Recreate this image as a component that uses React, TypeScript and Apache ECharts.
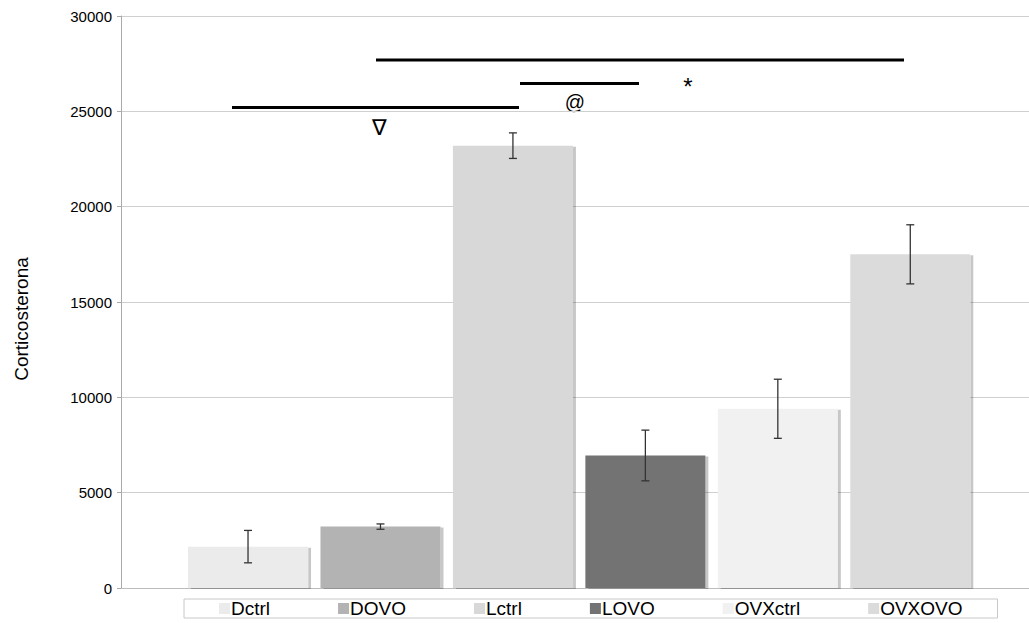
import React, { useEffect, useRef } from "react";
import * as echarts from "echarts";

const groups = ["Dctrl", "DOVO", "Lctrl", "LOVO", "OVXctrl", "OVXOVO"];
const means = [2170, 3220, 23200, 6950, 9400, 17500];
const errors = [850, 140, 670, 1330, 1550, 1550];
const colors = ["#ebebeb", "#b3b3b3", "#d8d8d8", "#737373", "#f1f1f1", "#dbdbdb"];
const yTicks = [0, 5000, 10000, 15000, 20000, 25000, 30000];
const yName = "Corticosterona";
const signifMarks = ["∇", "@", "*"];

const FONT = "'Liberation Sans', Arial, Helvetica, sans-serif";

export default function App() {
  const ref = useRef<HTMLDivElement>(null);
  useEffect(() => {
    if (!ref.current) return;
    const chart = echarts.init(ref.current, undefined, { renderer: "svg" });
    const yMax = yTicks[yTicks.length - 1];
    const interval = yTicks[1] - yTicks[0];

    const barSeries = groups.map((g, i) => ({
      name: g,
      type: "bar",
      xAxisIndex: 1,
      yAxisIndex: 1,
      barWidth: 120,
      barGap: "-100%",
      z: 2,
      data: groups.map((_, j) => (j === i ? means[i] : "-")),
      itemStyle: {
        color: colors[i],
        shadowColor: "rgba(0,0,0,0.22)",
        shadowOffsetX: 3,
        shadowOffsetY: 1,
        shadowBlur: 0,
      },
    }));

    const errSeries = {
      type: "custom",
      xAxisIndex: 1,
      yAxisIndex: 1,
      silent: true,
      z: 10,
      data: groups.map((_, i) => [i, means[i] - errors[i], means[i] + errors[i]]),
      renderItem: (params: any, api: any) => {
        const lo = api.coord([api.value(0), api.value(1)]);
        const hi = api.coord([api.value(0), api.value(2)]);
        const cap = 4;
        const style = { stroke: "#333", lineWidth: 1.3 };
        return {
          type: "group",
          children: [
            { type: "line", shape: { x1: hi[0], y1: hi[1], x2: lo[0], y2: lo[1] }, style },
            { type: "line", shape: { x1: hi[0] - cap, y1: hi[1], x2: hi[0] + cap, y2: hi[1] }, style },
            { type: "line", shape: { x1: lo[0] - cap, y1: lo[1], x2: lo[0] + cap, y2: lo[1] }, style },
          ],
        };
      },
    };

    const lineStyle = { stroke: "#000", lineWidth: 3 };
    const symStyle = (size: number) => ({
      fill: "#000",
      font: `${size}px ${FONT}`,
      textAlign: "center",
      textVerticalAlign: "middle",
    });

    chart.setOption({
      animation: false,
      backgroundColor: "#fff",
      textStyle: { fontFamily: FONT },
      grid: [
        { left: 121, right: 0, top: 16, bottom: 35 },
        { left: 181.8, width: 794.7, top: 16, bottom: 35 },
      ],
      xAxis: [
        {
          type: "category",
          gridIndex: 0,
          data: [""],
          axisLine: { show: true, lineStyle: { color: "#bdbdbd", width: 1 } },
          axisTick: { show: false },
          axisLabel: { show: false },
        },
        {
          type: "category",
          gridIndex: 1,
          data: groups,
          show: false,
        },
      ],
      yAxis: [
        {
          type: "value",
          gridIndex: 0,
          min: 0,
          max: yMax,
          interval,
          axisLine: { show: true, lineStyle: { color: "#a9a9a9", width: 1 } },
          axisTick: { show: true, length: 4, lineStyle: { color: "#a9a9a9" } },
          axisLabel: {
            color: "#000",
            fontSize: 15,
            margin: 9,
            fontFamily: FONT,
            formatter: (v: number) => String(v),
          },
          splitLine: { show: true, lineStyle: { color: "#cfcfcf", width: 1 } },
        },
        {
          type: "value",
          gridIndex: 1,
          min: 0,
          max: yMax,
          interval,
          show: false,
          splitLine: { show: false },
        },
      ],
      legend: {
        data: groups,
        left: 184,
        top: 599,
        orient: "horizontal",
        icon: "rect",
        itemWidth: 11,
        itemHeight: 11,
        itemGap: 68,
        padding: [0, 35, 0, 35],
        borderColor: "#c8c8c8",
        borderWidth: 1,
        textStyle: { color: "#000", fontSize: 19, fontFamily: FONT, padding: [0, 0, 0, -4] },
        selectedMode: false,
      },
      graphic: [
        {
          type: "text",
          x: 21,
          y: 319,
          rotation: Math.PI / 2,
          style: {
            text: yName,
            fill: "#000",
            font: `19px ${FONT}`,
            textAlign: "center",
            textVerticalAlign: "middle",
          },
        },
        { type: "line", shape: { x1: 376, y1: 60, x2: 904, y2: 60 }, style: lineStyle },
        { type: "line", shape: { x1: 520, y1: 83.5, x2: 639, y2: 83.5 }, style: lineStyle },
        { type: "line", shape: { x1: 232, y1: 107.5, x2: 519, y2: 107.5 }, style: lineStyle },
        { type: "text", x: 379, y: 127, style: { text: signifMarks[0], ...symStyle(22) } },
        { type: "text", x: 575, y: 102, style: { text: signifMarks[1], ...symStyle(20) } },
        { type: "text", x: 688, y: 86, style: { text: signifMarks[2], ...symStyle(24) } },
      ],
      series: [...barSeries, errSeries],
    });
    return () => chart.dispose();
  }, []);
  return (
    <div
      ref={ref}
      style={{ position: "absolute", left: 0, top: 0, width: 1029, height: 623 }}
    />
  );
}
